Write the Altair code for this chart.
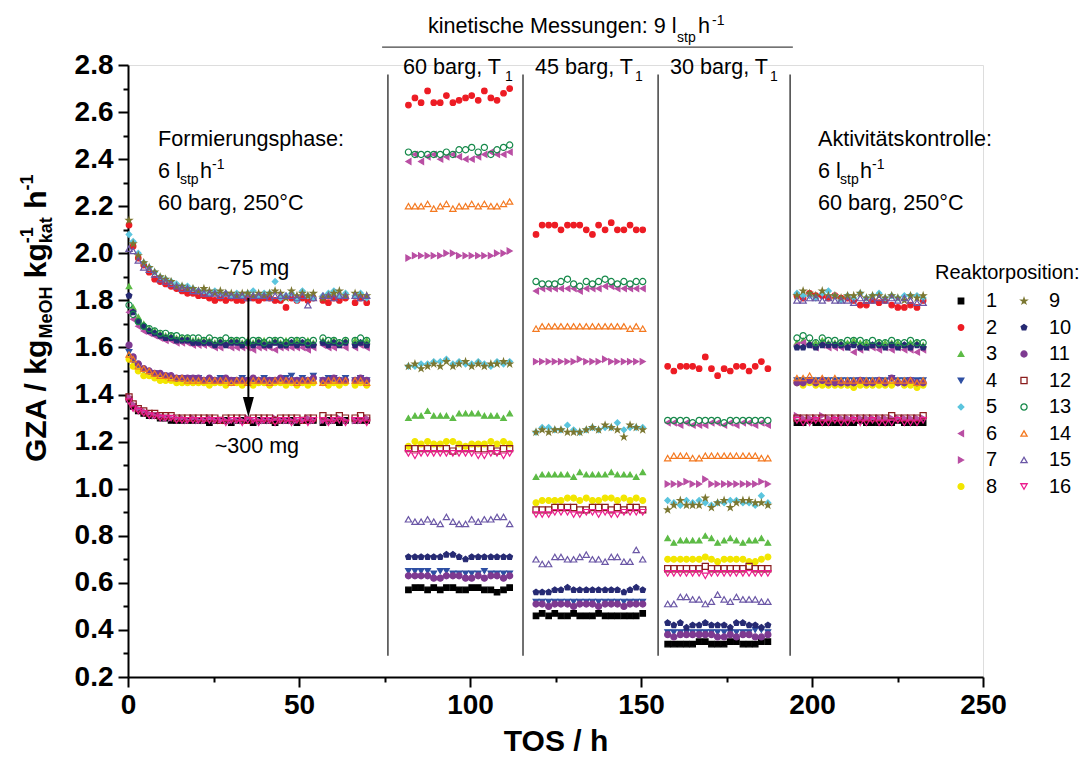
import altair as alt
import pandas as pd

FONT = "Liberation Sans"

REACTORS = [str(i) for i in range(1, 17)]
LEGEND_ORDER = [str(i) for i in range(1, 17)]

COLOR = {"1": "#000000", "2": "#ed1c24", "3": "#5dbb46", "4": "#2e4fa3", "5": "#5bc5de",
         "6": "#b94ea3", "7": "#b94ea3", "8": "#f2e600", "9": "#7b7731", "10": "#262a73",
         "11": "#7e3a91", "12": "#8b1d1d", "13": "#16894a", "14": "#f47920", "15": "#6b57a6",
         "16": "#ec1c8e"}
STAR = "M0,-1L0.2245,-0.309L0.951,-0.309L0.363,0.118L0.588,0.809L0,0.382L-0.588,0.809L-0.363,0.118L-0.951,-0.309L-0.2245,-0.309Z"
PENTA = "M0,-1L0.951,-0.309L0.588,0.809L-0.588,0.809L-0.951,-0.309Z"
SHAPE = {"1": "square", "2": "circle", "3": "triangle-up", "4": "triangle-down", "5": "diamond",
         "6": "triangle-left", "7": "triangle-right", "8": "circle", "9": STAR, "10": PENTA,
         "11": "circle", "12": "square", "13": "circle", "14": "triangle-up", "15": "triangle-up",
         "16": "triangle-down"}
OPEN = ["12", "13", "14", "15", "16"]
SIZE = {"1": 30, "2": 40, "3": 58, "4": 58, "5": 48, "6": 58, "7": 58, "8": 38, "9": 58,
        "10": 45, "11": 40, "12": 32, "13": 38, "14": 55, "15": 55, "16": 55}

# ---- measurement times (h) ----
T_FORM = [0.3, 1.5, 3.0, 4.6, 6.2, 7.8, 9.4, 11.0, 12.6, 14.2,
          15.8, 17.4, 19.0, 20.6, 22.2, 23.8, 25.4, 27.0, 28.6, 30.2,
          31.8, 33.4, 35.0, 36.6, 38.2, 39.8, 41.4, 43.0, 44.6, 46.2,
          47.8, 49.4, 51.0, 52.6, 54.2, 57.0, 58.6, 60.2, 61.8, 63.6,
          66.4, 68.0, 69.8]
T_K60 = [82.0, 83.9, 85.7, 87.6, 89.4, 91.3, 93.1, 95.0, 96.8, 98.7, 100.5, 102.4, 104.2, 106.1, 107.9, 109.8, 111.6]
T_K45 = [119.3, 121.1, 123.0, 124.8, 126.6, 128.5, 130.3, 132.1, 134.0, 135.8, 137.6, 139.5, 141.3, 143.1, 145.0, 146.8, 148.6, 150.5]
T_K30 = [157.8, 159.6, 161.5, 163.3, 165.1, 167.0, 168.8, 170.6, 172.4, 174.3, 176.1, 177.9, 179.8, 181.6, 183.4, 185.2, 187.1]
T_CTRL = [195.6, 197.4, 199.3, 201.1, 203.0, 204.8, 206.7, 208.5, 210.4, 212.2, 214.1, 215.9, 217.7, 219.6, 221.4, 223.3, 225.1, 227.0, 228.8, 230.7, 232.5]

# ---- Formierungsphase ----
FORM = {
    "2": [2.12, 2.03, 1.98, 1.95, 1.92, 1.89, 1.88, 1.87, 1.86, 1.85,
          1.84, 1.83, 1.83, 1.82, 1.82, 1.81, 1.80, 1.81, 1.80, 1.81,
          1.80, 1.80, 1.81, 1.81, 1.80, 1.81, 1.81, 1.80, 1.80, 1.77,
          1.81, 1.80, 1.81, 1.80, 1.81, 1.80, 1.79, 1.81, 1.80, 1.81,
          1.79, 1.81, 1.79],
    "5": [2.08, 2.05, 2.00, 1.96, 1.94, 1.92, 1.90, 1.89, 1.88, 1.87,
          1.86, 1.86, 1.85, 1.84, 1.84, 1.83, 1.84, 1.83, 1.83, 1.82,
          1.83, 1.82, 1.83, 1.84, 1.82, 1.83, 1.83, 1.88, 1.81, 1.82,
          1.83, 1.80, 1.84, 1.82, 1.81, 1.82, 1.83, 1.84, 1.82, 1.83,
          1.82, 1.83, 1.81],
    "9": [2.14, 2.04, 1.99, 1.96, 1.94, 1.92, 1.90, 1.89, 1.88, 1.86,
          1.86, 1.85, 1.85, 1.84, 1.85, 1.84, 1.83, 1.84, 1.83, 1.83,
          1.82, 1.83, 1.83, 1.82, 1.83, 1.82, 1.83, 1.84, 1.83, 1.81,
          1.84, 1.82, 1.83, 1.82, 1.83, 1.81, 1.82, 1.83, 1.84, 1.82,
          1.83, 1.82, 1.82],
    "15": [2.02, 2.01, 1.97, 1.94, 1.93, 1.91, 1.89, 1.88, 1.87, 1.86,
           1.85, 1.85, 1.84, 1.84, 1.83, 1.83, 1.83, 1.82, 1.83, 1.82,
           1.82, 1.82, 1.81, 1.82, 1.82, 1.82, 1.81, 1.82, 1.82, 1.82,
           1.82, 1.81, 1.82, 1.78, 1.81, 1.82, 1.82, 1.81, 1.82, 1.82,
           1.82, 1.81, 1.82],
    "3": [1.86, 1.77, 1.73, 1.70, 1.68, 1.67, 1.66, 1.65, 1.65, 1.64,
          1.64, 1.64, 1.63, 1.63, 1.63, 1.63, 1.62, 1.63, 1.62, 1.63,
          1.63, 1.62, 1.63, 1.62, 1.63, 1.63, 1.62, 1.63, 1.62, 1.63,
          1.62, 1.63, 1.62, 1.63, 1.62, 1.63, 1.62, 1.63, 1.62, 1.63,
          1.63, 1.62, 1.63],
    "10": [1.82, 1.75, 1.71, 1.69, 1.67, 1.66, 1.65, 1.64, 1.64, 1.63,
           1.63, 1.63, 1.62, 1.62, 1.62, 1.62, 1.61, 1.62, 1.61, 1.62,
           1.62, 1.61, 1.62, 1.61, 1.62, 1.61, 1.61, 1.62, 1.61, 1.61,
           1.62, 1.61, 1.62, 1.61, 1.61, 1.62, 1.61, 1.62, 1.61, 1.62,
           1.61, 1.62, 1.61],
    "13": [1.78, 1.74, 1.71, 1.69, 1.68, 1.67, 1.66, 1.66, 1.65, 1.65,
           1.64, 1.64, 1.64, 1.64, 1.63, 1.64, 1.63, 1.63, 1.64, 1.63,
           1.63, 1.63, 1.62, 1.63, 1.63, 1.62, 1.63, 1.63, 1.63, 1.62,
           1.63, 1.63, 1.63, 1.62, 1.63, 1.64, 1.63, 1.63, 1.62, 1.63,
           1.63, 1.64, 1.63],
    "6": [1.75, 1.72, 1.69, 1.67, 1.66, 1.65, 1.64, 1.63, 1.63, 1.62,
          1.62, 1.62, 1.61, 1.61, 1.61, 1.61, 1.60, 1.60, 1.61, 1.60,
          1.60, 1.60, 1.60, 1.59, 1.60, 1.60, 1.60, 1.59, 1.60, 1.60,
          1.60, 1.60, 1.60, 1.59, 1.60, 1.61, 1.60, 1.60, 1.61, 1.60,
          1.60, 1.61, 1.60],
    "11": [1.61, 1.56, 1.53, 1.51, 1.50, 1.49, 1.49, 1.48, 1.48, 1.47,
           1.47, 1.47, 1.47, 1.47, 1.46, 1.47, 1.46, 1.46, 1.47, 1.46,
           1.46, 1.46, 1.46, 1.47, 1.46, 1.46, 1.46, 1.46, 1.47, 1.46,
           1.46, 1.46, 1.46, 1.46, 1.47, 1.46, 1.46, 1.47, 1.46, 1.46,
           1.46, 1.47, 1.46],
    "14": [1.57, 1.55, 1.52, 1.51, 1.50, 1.49, 1.48, 1.48, 1.47, 1.47,
           1.47, 1.46, 1.46, 1.46, 1.46, 1.46, 1.46, 1.46, 1.46, 1.45,
           1.46, 1.46, 1.45, 1.46, 1.46, 1.46, 1.45, 1.46, 1.46, 1.46,
           1.46, 1.45, 1.46, 1.46, 1.46, 1.45, 1.46, 1.46, 1.46, 1.46,
           1.46, 1.46, 1.45],
    "4": [1.58, 1.54, 1.52, 1.50, 1.49, 1.49, 1.48, 1.48, 1.47, 1.47,
          1.47, 1.47, 1.46, 1.47, 1.46, 1.46, 1.46, 1.47, 1.46, 1.46,
          1.46, 1.47, 1.46, 1.46, 1.46, 1.47, 1.46, 1.46, 1.46, 1.47,
          1.48, 1.46, 1.47, 1.46, 1.48, 1.46, 1.47, 1.47, 1.46, 1.47,
          1.46, 1.47, 1.46],
    "8": [1.55, 1.52, 1.50, 1.48, 1.48, 1.47, 1.46, 1.46, 1.46, 1.45,
          1.45, 1.45, 1.45, 1.45, 1.45, 1.44, 1.45, 1.45, 1.44, 1.45,
          1.45, 1.44, 1.45, 1.44, 1.45, 1.45, 1.44, 1.45, 1.45, 1.44,
          1.45, 1.44, 1.45, 1.44, 1.45, 1.45, 1.44, 1.45, 1.44, 1.45,
          1.44, 1.45, 1.44],
    "12": [1.39, 1.36, 1.34, 1.33, 1.32, 1.32, 1.31, 1.31, 1.31, 1.30,
           1.30, 1.30, 1.30, 1.30, 1.30, 1.30, 1.30, 1.29, 1.30, 1.30,
           1.30, 1.30, 1.29, 1.30, 1.30, 1.30, 1.30, 1.29, 1.30, 1.30,
           1.30, 1.30, 1.29, 1.30, 1.30, 1.31, 1.30, 1.30, 1.31, 1.30,
           1.30, 1.31, 1.30],
    "16": [1.37, 1.34, 1.33, 1.32, 1.31, 1.31, 1.30, 1.30, 1.30, 1.29,
           1.29, 1.29, 1.29, 1.29, 1.29, 1.29, 1.29, 1.29, 1.28, 1.29,
           1.29, 1.28, 1.29, 1.29, 1.28, 1.29, 1.29, 1.28, 1.29, 1.29,
           1.28, 1.29, 1.29, 1.28, 1.29, 1.29, 1.28, 1.29, 1.29, 1.28,
           1.29, 1.29, 1.28],
    "1": [1.38, 1.35, 1.33, 1.32, 1.31, 1.31, 1.30, 1.30, 1.29, 1.29,
          1.29, 1.29, 1.29, 1.29, 1.29, 1.28, 1.29, 1.29, 1.29, 1.28,
          1.29, 1.29, 1.29, 1.28, 1.29, 1.29, 1.29, 1.28, 1.29, 1.29,
          1.29, 1.28, 1.29, 1.29, 1.29, 1.28, 1.29, 1.29, 1.28, 1.29,
          1.29, 1.29, 1.29],
    "7": [1.39, 1.36, 1.34, 1.33, 1.32, 1.31, 1.31, 1.30, 1.30, 1.30,
          1.30, 1.29, 1.30, 1.29, 1.29, 1.30, 1.29, 1.29, 1.29, 1.29,
          1.29, 1.29, 1.30, 1.29, 1.29, 1.29, 1.29, 1.30, 1.29, 1.29,
          1.29, 1.29, 1.29, 1.30, 1.29, 1.29, 1.29, 1.29, 1.30, 1.29,
          1.29, 1.29, 1.30],
}

# ---- kinetische Messungen, 60 barg ----
K60 = {
    "2": [2.63, 2.66, 2.64, 2.69, 2.64, 2.64, 2.67, 2.64, 2.65, 2.66, 2.67, 2.65, 2.69, 2.66, 2.65, 2.68, 2.70],
    "13": [2.43, 2.42, 2.42, 2.42, 2.42, 2.42, 2.43, 2.42, 2.44, 2.44, 2.45, 2.43, 2.45, 2.42, 2.44, 2.45, 2.46],
    "6": [2.39, 2.42, 2.39, 2.41, 2.42, 2.40, 2.41, 2.42, 2.41, 2.40, 2.40, 2.41, 2.42, 2.43, 2.42, 2.42, 2.43],
    "14": [2.20, 2.20, 2.20, 2.21, 2.19, 2.20, 2.21, 2.19, 2.20, 2.20, 2.21, 2.20, 2.21, 2.20, 2.20, 2.21, 2.22],
    "7": [1.98, 1.99, 1.99, 1.99, 1.99, 1.99, 2.00, 2.00, 1.99, 1.99, 1.99, 1.99, 1.99, 1.99, 2.00, 2.00, 2.01],
    "5": [1.52, 1.52, 1.53, 1.53, 1.54, 1.54, 1.55, 1.53, 1.54, 1.53, 1.53, 1.54, 1.53, 1.52, 1.54, 1.53, 1.54],
    "9": [1.52, 1.53, 1.51, 1.52, 1.53, 1.52, 1.54, 1.52, 1.53, 1.54, 1.52, 1.53, 1.52, 1.53, 1.53, 1.54, 1.53],
    "3": [1.30, 1.31, 1.31, 1.33, 1.31, 1.31, 1.31, 1.30, 1.32, 1.32, 1.32, 1.32, 1.31, 1.31, 1.31, 1.30, 1.32],
    "8": [1.18, 1.20, 1.19, 1.20, 1.19, 1.19, 1.20, 1.20, 1.19, 1.18, 1.19, 1.19, 1.19, 1.20, 1.19, 1.20, 1.19],
    "12": [1.17, 1.17, 1.17, 1.17, 1.17, 1.17, 1.17, 1.16, 1.17, 1.17, 1.17, 1.17, 1.17, 1.17, 1.16, 1.17, 1.17],
    "16": [1.15, 1.14, 1.15, 1.15, 1.15, 1.15, 1.15, 1.15, 1.15, 1.15, 1.15, 1.14, 1.14, 1.15, 1.15, 1.14, 1.15],
    "15": [0.87, 0.86, 0.86, 0.87, 0.86, 0.85, 0.88, 0.86, 0.85, 0.85, 0.87, 0.86, 0.87, 0.87, 0.88, 0.88, 0.85],
    "10": [0.71, 0.71, 0.71, 0.71, 0.71, 0.71, 0.72, 0.72, 0.71, 0.70, 0.71, 0.71, 0.71, 0.71, 0.71, 0.71, 0.71],
    "4": [0.65, 0.65, 0.65, 0.65, 0.64, 0.65, 0.65, 0.64, 0.64, 0.64, 0.64, 0.64, 0.65, 0.64, 0.64, 0.64, 0.64],
    "11": [0.63, 0.63, 0.63, 0.63, 0.62, 0.62, 0.63, 0.63, 0.63, 0.62, 0.62, 0.63, 0.62, 0.63, 0.63, 0.62, 0.63],
    "1": [0.57, 0.58, 0.58, 0.57, 0.58, 0.57, 0.58, 0.58, 0.57, 0.57, 0.58, 0.58, 0.57, 0.57, 0.56, 0.57, 0.58],
}

# ---- kinetische Messungen, 45 barg ----
K45 = {
    "2": [2.08, 2.12, 2.12, 2.12, 2.10, 2.12, 2.12, 2.12, 2.10, 2.08, 2.12, 2.10, 2.13, 2.10, 2.10, 2.12, 2.10, 2.10],
    "13": [1.88, 1.87, 1.87, 1.87, 1.88, 1.89, 1.87, 1.86, 1.88, 1.87, 1.88, 1.89, 1.88, 1.87, 1.88, 1.87, 1.88, 1.88],
    "6": [1.84, 1.85, 1.85, 1.85, 1.85, 1.85, 1.85, 1.84, 1.85, 1.85, 1.85, 1.86, 1.86, 1.85, 1.85, 1.85, 1.85, 1.85],
    "14": [1.68, 1.69, 1.69, 1.69, 1.69, 1.69, 1.69, 1.69, 1.69, 1.69, 1.69, 1.69, 1.69, 1.69, 1.69, 1.68, 1.69, 1.68],
    "7": [1.54, 1.54, 1.54, 1.54, 1.54, 1.54, 1.54, 1.55, 1.54, 1.54, 1.54, 1.55, 1.54, 1.54, 1.54, 1.54, 1.54, 1.54],
    "5": [1.24, 1.26, 1.26, 1.25, 1.25, 1.27, 1.25, 1.24, 1.25, 1.26, 1.25, 1.26, 1.26, 1.28, 1.25, 1.26, 1.26, 1.26],
    "9": [1.24, 1.25, 1.24, 1.25, 1.25, 1.24, 1.24, 1.24, 1.25, 1.26, 1.25, 1.27, 1.26, 1.25, 1.22, 1.27, 1.26, 1.25],
    "3": [1.05, 1.06, 1.06, 1.06, 1.06, 1.06, 1.05, 1.07, 1.06, 1.06, 1.06, 1.06, 1.07, 1.06, 1.06, 1.06, 1.05, 1.07],
    "8": [0.94, 0.95, 0.95, 0.95, 0.95, 0.96, 0.96, 0.95, 0.96, 0.95, 0.95, 0.96, 0.96, 0.95, 0.96, 0.95, 0.96, 0.95],
    "12": [0.91, 0.91, 0.91, 0.92, 0.92, 0.92, 0.92, 0.91, 0.91, 0.92, 0.92, 0.92, 0.91, 0.92, 0.91, 0.92, 0.92, 0.91],
    "16": [0.89, 0.89, 0.89, 0.90, 0.90, 0.90, 0.89, 0.89, 0.90, 0.90, 0.89, 0.90, 0.89, 0.89, 0.90, 0.90, 0.90, 0.90],
    "15": [0.70, 0.68, 0.68, 0.71, 0.71, 0.70, 0.70, 0.71, 0.72, 0.70, 0.70, 0.69, 0.71, 0.71, 0.69, 0.69, 0.74, 0.70],
    "10": [0.56, 0.56, 0.56, 0.57, 0.57, 0.58, 0.57, 0.57, 0.57, 0.57, 0.57, 0.57, 0.57, 0.57, 0.56, 0.57, 0.58, 0.57],
    "4": [0.52, 0.52, 0.52, 0.52, 0.52, 0.52, 0.52, 0.52, 0.52, 0.52, 0.52, 0.52, 0.52, 0.52, 0.52, 0.52, 0.52, 0.52],
    "11": [0.51, 0.51, 0.50, 0.51, 0.51, 0.51, 0.50, 0.51, 0.51, 0.51, 0.50, 0.51, 0.51, 0.51, 0.50, 0.51, 0.51, 0.51],
    "1": [0.46, 0.47, 0.46, 0.47, 0.46, 0.46, 0.47, 0.46, 0.46, 0.46, 0.47, 0.46, 0.46, 0.46, 0.46, 0.46, 0.46, 0.47],
}

# ---- kinetische Messungen, 30 barg ----
K30 = {
    "2": [1.52, 1.50, 1.52, 1.52, 1.52, 1.51, 1.56, 1.51, 1.48, 1.51, 1.50, 1.52, 1.52, 1.50, 1.52, 1.54, 1.51],
    "13": [1.29, 1.29, 1.29, 1.29, 1.28, 1.29, 1.29, 1.29, 1.29, 1.28, 1.29, 1.29, 1.29, 1.29, 1.29, 1.29, 1.29],
    "6": [1.28, 1.28, 1.27, 1.28, 1.27, 1.27, 1.27, 1.28, 1.28, 1.27, 1.28, 1.27, 1.28, 1.28, 1.27, 1.28, 1.27],
    "14": [1.13, 1.14, 1.14, 1.14, 1.13, 1.13, 1.14, 1.14, 1.14, 1.14, 1.14, 1.14, 1.14, 1.14, 1.14, 1.13, 1.13],
    "7": [1.02, 1.02, 1.02, 1.03, 1.02, 1.02, 1.04, 1.02, 1.02, 1.02, 1.02, 1.02, 1.02, 1.02, 1.02, 1.03, 1.02],
    "5": [0.95, 0.94, 0.93, 0.95, 0.94, 0.95, 0.94, 0.93, 0.94, 0.94, 0.95, 0.95, 0.94, 0.94, 0.93, 0.97, 0.94],
    "9": [0.91, 0.93, 0.95, 0.93, 0.93, 0.93, 0.96, 0.92, 0.94, 0.95, 0.92, 0.94, 0.95, 0.95, 0.94, 0.94, 0.93],
    "3": [0.79, 0.77, 0.78, 0.78, 0.78, 0.78, 0.80, 0.79, 0.77, 0.78, 0.79, 0.78, 0.77, 0.78, 0.78, 0.79, 0.77],
    "8": [0.70, 0.70, 0.70, 0.70, 0.70, 0.70, 0.71, 0.70, 0.69, 0.70, 0.70, 0.70, 0.70, 0.69, 0.69, 0.70, 0.71],
    "12": [0.66, 0.66, 0.66, 0.66, 0.66, 0.66, 0.67, 0.66, 0.66, 0.66, 0.66, 0.66, 0.66, 0.67, 0.66, 0.66, 0.66],
    "16": [0.64, 0.64, 0.64, 0.64, 0.64, 0.64, 0.63, 0.64, 0.64, 0.64, 0.64, 0.64, 0.64, 0.64, 0.64, 0.64, 0.64],
    "15": [0.51, 0.51, 0.54, 0.54, 0.53, 0.53, 0.51, 0.52, 0.55, 0.53, 0.52, 0.54, 0.53, 0.53, 0.53, 0.52, 0.52],
    "10": [0.43, 0.42, 0.43, 0.41, 0.42, 0.42, 0.43, 0.42, 0.42, 0.42, 0.41, 0.43, 0.43, 0.42, 0.42, 0.41, 0.42],
    "4": [0.39, 0.39, 0.39, 0.39, 0.39, 0.39, 0.39, 0.39, 0.39, 0.39, 0.39, 0.39, 0.39, 0.39, 0.40, 0.40, 0.39],
    "11": [0.38, 0.37, 0.38, 0.38, 0.38, 0.38, 0.38, 0.38, 0.37, 0.37, 0.38, 0.37, 0.38, 0.38, 0.37, 0.37, 0.38],
    "1": [0.34, 0.34, 0.34, 0.34, 0.34, 0.35, 0.35, 0.34, 0.34, 0.34, 0.35, 0.35, 0.34, 0.34, 0.34, 0.35, 0.35],
}

# ---- Aktivitaetskontrolle ----
CTRL = {
    "2": [1.82, 1.81, 1.83, 1.82, 1.82, 1.81, 1.82, 1.81, 1.81, 1.80, 1.78, 1.78, 1.80, 1.79, 1.80, 1.78, 1.77, 1.77, 1.78, 1.77, 1.80],
    "5": [1.83, 1.82, 1.82, 1.81, 1.83, 1.84, 1.82, 1.80, 1.82, 1.81, 1.83, 1.81, 1.82, 1.83, 1.81, 1.82, 1.81, 1.82, 1.82, 1.82, 1.81],
    "9": [1.82, 1.84, 1.83, 1.82, 1.84, 1.82, 1.82, 1.81, 1.82, 1.82, 1.83, 1.81, 1.82, 1.82, 1.81, 1.82, 1.81, 1.80, 1.82, 1.81, 1.82],
    "15": [1.80, 1.80, 1.81, 1.81, 1.80, 1.81, 1.80, 1.80, 1.80, 1.79, 1.81, 1.80, 1.80, 1.81, 1.80, 1.81, 1.80, 1.81, 1.80, 1.79, 1.79],
    "13": [1.64, 1.65, 1.64, 1.62, 1.64, 1.63, 1.63, 1.62, 1.63, 1.63, 1.63, 1.62, 1.63, 1.62, 1.62, 1.63, 1.62, 1.62, 1.63, 1.62, 1.62],
    "3": [1.62, 1.63, 1.62, 1.62, 1.63, 1.62, 1.62, 1.62, 1.62, 1.63, 1.62, 1.62, 1.61, 1.62, 1.62, 1.62, 1.62, 1.61, 1.62, 1.62, 1.61],
    "10": [1.60, 1.60, 1.61, 1.60, 1.61, 1.61, 1.61, 1.61, 1.60, 1.61, 1.60, 1.60, 1.61, 1.61, 1.60, 1.61, 1.60, 1.61, 1.60, 1.61, 1.60],
    "6": [1.61, 1.62, 1.61, 1.60, 1.61, 1.60, 1.60, 1.60, 1.60, 1.58, 1.59, 1.60, 1.60, 1.59, 1.60, 1.59, 1.60, 1.59, 1.59, 1.58, 1.59],
    "14": [1.47, 1.47, 1.48, 1.46, 1.47, 1.46, 1.47, 1.46, 1.46, 1.46, 1.46, 1.46, 1.46, 1.46, 1.46, 1.46, 1.46, 1.46, 1.46, 1.45, 1.46],
    "4": [1.46, 1.46, 1.46, 1.46, 1.46, 1.46, 1.46, 1.46, 1.46, 1.46, 1.46, 1.46, 1.46, 1.46, 1.46, 1.47, 1.46, 1.46, 1.46, 1.46, 1.46],
    "11": [1.45, 1.45, 1.46, 1.45, 1.46, 1.45, 1.45, 1.45, 1.45, 1.45, 1.46, 1.45, 1.45, 1.46, 1.45, 1.47, 1.45, 1.45, 1.46, 1.45, 1.45],
    "8": [1.45, 1.44, 1.45, 1.44, 1.44, 1.44, 1.44, 1.44, 1.44, 1.43, 1.44, 1.44, 1.44, 1.44, 1.44, 1.44, 1.45, 1.44, 1.44, 1.43, 1.44],
    "12": [1.30, 1.30, 1.30, 1.30, 1.30, 1.30, 1.30, 1.30, 1.30, 1.30, 1.30, 1.30, 1.30, 1.30, 1.30, 1.31, 1.30, 1.30, 1.30, 1.30, 1.31],
    "7": [1.31, 1.30, 1.30, 1.30, 1.31, 1.30, 1.30, 1.30, 1.30, 1.30, 1.30, 1.30, 1.30, 1.30, 1.30, 1.30, 1.30, 1.30, 1.30, 1.30, 1.30],
    "1": [1.28, 1.28, 1.29, 1.28, 1.28, 1.28, 1.28, 1.28, 1.28, 1.28, 1.29, 1.28, 1.28, 1.28, 1.28, 1.28, 1.29, 1.28, 1.28, 1.28, 1.28],
    "16": [1.29, 1.28, 1.28, 1.29, 1.28, 1.28, 1.29, 1.28, 1.28, 1.29, 1.28, 1.28, 1.29, 1.28, 1.28, 1.28, 1.29, 1.28, 1.28, 1.28, 1.29],
}

X_TICKS = [0, 50, 100, 150, 200, 250]
X_MINOR = [25, 75, 125, 175, 225]
Y_TICKS = [0.2, 0.4, 0.6, 0.8, 1.0, 1.2, 1.4, 1.6, 1.8, 2.0, 2.2, 2.4, 2.6, 2.8]
Y_MINOR = [0.3, 0.5, 0.7, 0.9, 1.1, 1.3, 1.5, 1.7, 1.9, 2.1, 2.3, 2.5, 2.7]

# separators / bracket / arrow (data units)
SEP_X = [76.0, 115.5, 155.0, 193.6]
SEP_Y = [0.29, 2.76]
BRACKET_X = [74.3, 194.4]
BRACKET_Y = 2.876
ARROW_X = 35.2
ARROW_Y = [1.81, 1.37]
ARROW_HEAD_Y = 1.347

# annotation text (data units)
NOTE_TXT = ["Formierungsphase:", "6 l", "h", "60 barg, 250°C",
            "Aktivitätskontrolle:", "6 l", "h", "60 barg, 250°C",
            "60 barg, T", "45 barg, T", "30 barg, T",
            "kinetische Messungen: 9 l", "h"]
NOTE_X = [8.77, 8.77, 21.05, 8.77,
          201.75, 201.75, 214.04, 201.75,
          80.41, 119.01, 158.48,
          87.72, 166.67]
NOTE_Y = [2.456, 2.320, 2.320, 2.184,
          2.456, 2.320, 2.320, 2.184,
          2.762, 2.762, 2.762,
          2.936, 2.936]
SMALL_TXT = ["stp", "-1", "stp", "-1", "stp", "-1", "1", "1", "1"]
SMALL_X = [15.20, 24.56, 208.19, 217.54, 160.53, 170.76, 110.23, 148.25, 187.72]
SMALL_Y = [2.294, 2.358, 2.294, 2.358, 2.898, 2.970, 2.732, 2.732, 2.732]
MASS_TXT = ["~75 mg", "~300 mg"]
MASS_X = [36.6, 37.7]
MASS_Y = [1.908, 1.152]

# y-axis title pieces (rotated)
YT_BIG = ["GZA / kg", "kg", "h"]
YT_BIG_X = [-23.98, -23.98, -23.98]
YT_BIG_Y = [1.1135, 1.894, 2.189]
YT_SMALL = ["MeOH", "kat", "-1", "-1"]
YT_SMALL_X = [-22.22, -22.22, -27.78, -27.78]
YT_SMALL_Y = [1.6377, 2.043, 2.043, 2.267]

# ---------- build table ----------
rows = []
for times, phase in [(T_FORM, FORM), (T_K60, K60), (T_K45, K45), (T_K30, K30), (T_CTRL, CTRL)]:
    for r in REACTORS:
        for t, v in zip(times, phase[r]):
            rows.append({"t": t, "v": v, "r": r})
df = pd.DataFrame(rows)

XS = alt.Scale(domain=[0, 250], nice=False, zero=False)
YS = alt.Scale(domain=[0.2, 2.8], nice=False, zero=False)

leg = alt.Legend(title="Reaktorposition:", orient="none", legendX=807, legendY=198, columns=2,
                 titleFont=FONT, titleFontSize=20, titleFontWeight="normal", titleColor="black",
                 titlePadding=8, labelFont=FONT, labelFontSize=20, labelColor="black",
                 symbolStrokeWidth=1.3, rowPadding=6.5, columnPadding=-2, labelOffset=15,
                 symbolOffset=16)

axis_common = dict(labelFont=FONT, labelFontWeight="bold", labelColor="black", tickColor="black",
                   tickWidth=2, domainColor="black", domainWidth=2, grid=False,
                   labelFlush=False, labelOverlap=False)

points = alt.Chart(df).mark_point(opacity=1, strokeWidth=1.2).encode(
    x=alt.X("t:Q", scale=XS, axis=alt.Axis(values=X_TICKS, title="TOS / h", orient="bottom",
            titleFont=FONT, titleFontSize=30, titleFontWeight="bold", titleColor="black",
            titlePadding=7, labelFontSize=28, labelPadding=4, tickSize=10, **axis_common)),
    y=alt.Y("v:Q", scale=YS, axis=alt.Axis(values=Y_TICKS, format=".1f", title=None, orient="left",
            labelFontSize=28, labelPadding=5, tickSize=10, **axis_common)),
    fill=alt.Fill("r:N", scale=alt.Scale(domain=LEGEND_ORDER,
                  range=["transparent" if r in OPEN else COLOR[r] for r in LEGEND_ORDER]), legend=leg),
    stroke=alt.Stroke("r:N", scale=alt.Scale(domain=LEGEND_ORDER, range=[COLOR[r] for r in LEGEND_ORDER]), legend=leg),
    shape=alt.Shape("r:N", scale=alt.Scale(domain=LEGEND_ORDER, range=[SHAPE[r] for r in LEGEND_ORDER]), legend=leg),
    size=alt.Size("r:N", scale=alt.Scale(domain=LEGEND_ORDER, range=[SIZE[r] for r in LEGEND_ORDER]), legend=leg),
)

minor = alt.Chart(pd.DataFrame({"t": [0.0], "v": [0.2]})).mark_point(opacity=0).encode(
    x=alt.X("t:Q", scale=XS, axis=alt.Axis(values=X_MINOR, labels=False, title=None, orient="bottom",
            tickSize=5, tickWidth=2, tickColor="black", domain=False, grid=False)),
    y=alt.Y("v:Q", scale=YS, axis=alt.Axis(values=Y_MINOR, labels=False, title=None, orient="left",
            tickSize=5, tickWidth=2, tickColor="black", domain=False, grid=False)),
)

sep_df = pd.DataFrame({"x": SEP_X, "y0": [SEP_Y[0]] * len(SEP_X), "y1": [SEP_Y[1]] * len(SEP_X)})
seps = alt.Chart(sep_df).mark_rule(color="#333333", strokeWidth=1.4).encode(
    x=alt.X("x:Q", scale=XS, axis=None), y=alt.Y("y0:Q", scale=YS, axis=None), y2="y1:Q")

br_df = pd.DataFrame({"x0": [BRACKET_X[0]], "x1": [BRACKET_X[1]], "y": [BRACKET_Y]})
bracket = alt.Chart(br_df).mark_rule(color="#444444", strokeWidth=1.2).encode(
    x=alt.X("x0:Q", scale=XS, axis=None), x2="x1:Q", y=alt.Y("y:Q", scale=YS, axis=None))

ar_df = pd.DataFrame({"x": [ARROW_X], "y0": [ARROW_Y[0]], "y1": [ARROW_Y[1]], "yh": [ARROW_HEAD_Y]})
arrow = alt.Chart(ar_df).mark_rule(color="black", strokeWidth=2).encode(
    x=alt.X("x:Q", scale=XS, axis=None), y=alt.Y("y0:Q", scale=YS, axis=None), y2="y1:Q")
arrow_head = alt.Chart(ar_df).mark_point(shape="M-0.55,-1L0.55,-1L0,1Z", size=400, filled=True,
                                         color="black", opacity=1).encode(
    x=alt.X("x:Q", scale=XS, axis=None), y=alt.Y("yh:Q", scale=YS, axis=None))


def text_layer(txt, xs, ys, size, align="left", weight="normal", angle=0):
    d = pd.DataFrame({"x": xs, "y": ys, "txt": txt})
    return alt.Chart(d).mark_text(align=align, baseline="alphabetic", font=FONT, fontSize=size,
                                  fontWeight=weight, angle=angle, color="black").encode(
        x=alt.X("x:Q", scale=XS, axis=None), y=alt.Y("y:Q", scale=YS, axis=None), text="txt:N")


notes = text_layer(NOTE_TXT, NOTE_X, NOTE_Y, 21.6)
small = text_layer(SMALL_TXT, SMALL_X, SMALL_Y, 14)
mass = text_layer(MASS_TXT, MASS_X, MASS_Y, 21.5, align="center")
yt_big = text_layer(YT_BIG, YT_BIG_X, YT_BIG_Y, 30, weight="bold", angle=270)
yt_small = text_layer(YT_SMALL, YT_SMALL_X, YT_SMALL_Y, 18, weight="bold", angle=270)

chart = alt.layer(points, minor, seps, bracket, arrow, arrow_head, notes, small, mass, yt_big, yt_small
                  ).resolve_axis(x="independent", y="independent").properties(
    width=855, height=612,
    autosize=alt.AutoSizeParams(type="none"),
    padding={"left": 120, "top": 57, "right": 98, "bottom": 82},
).configure_view(strokeWidth=0).configure(font=FONT, background="white")

chart.save("out.html", embed_options={"renderer": "svg", "actions": False})
